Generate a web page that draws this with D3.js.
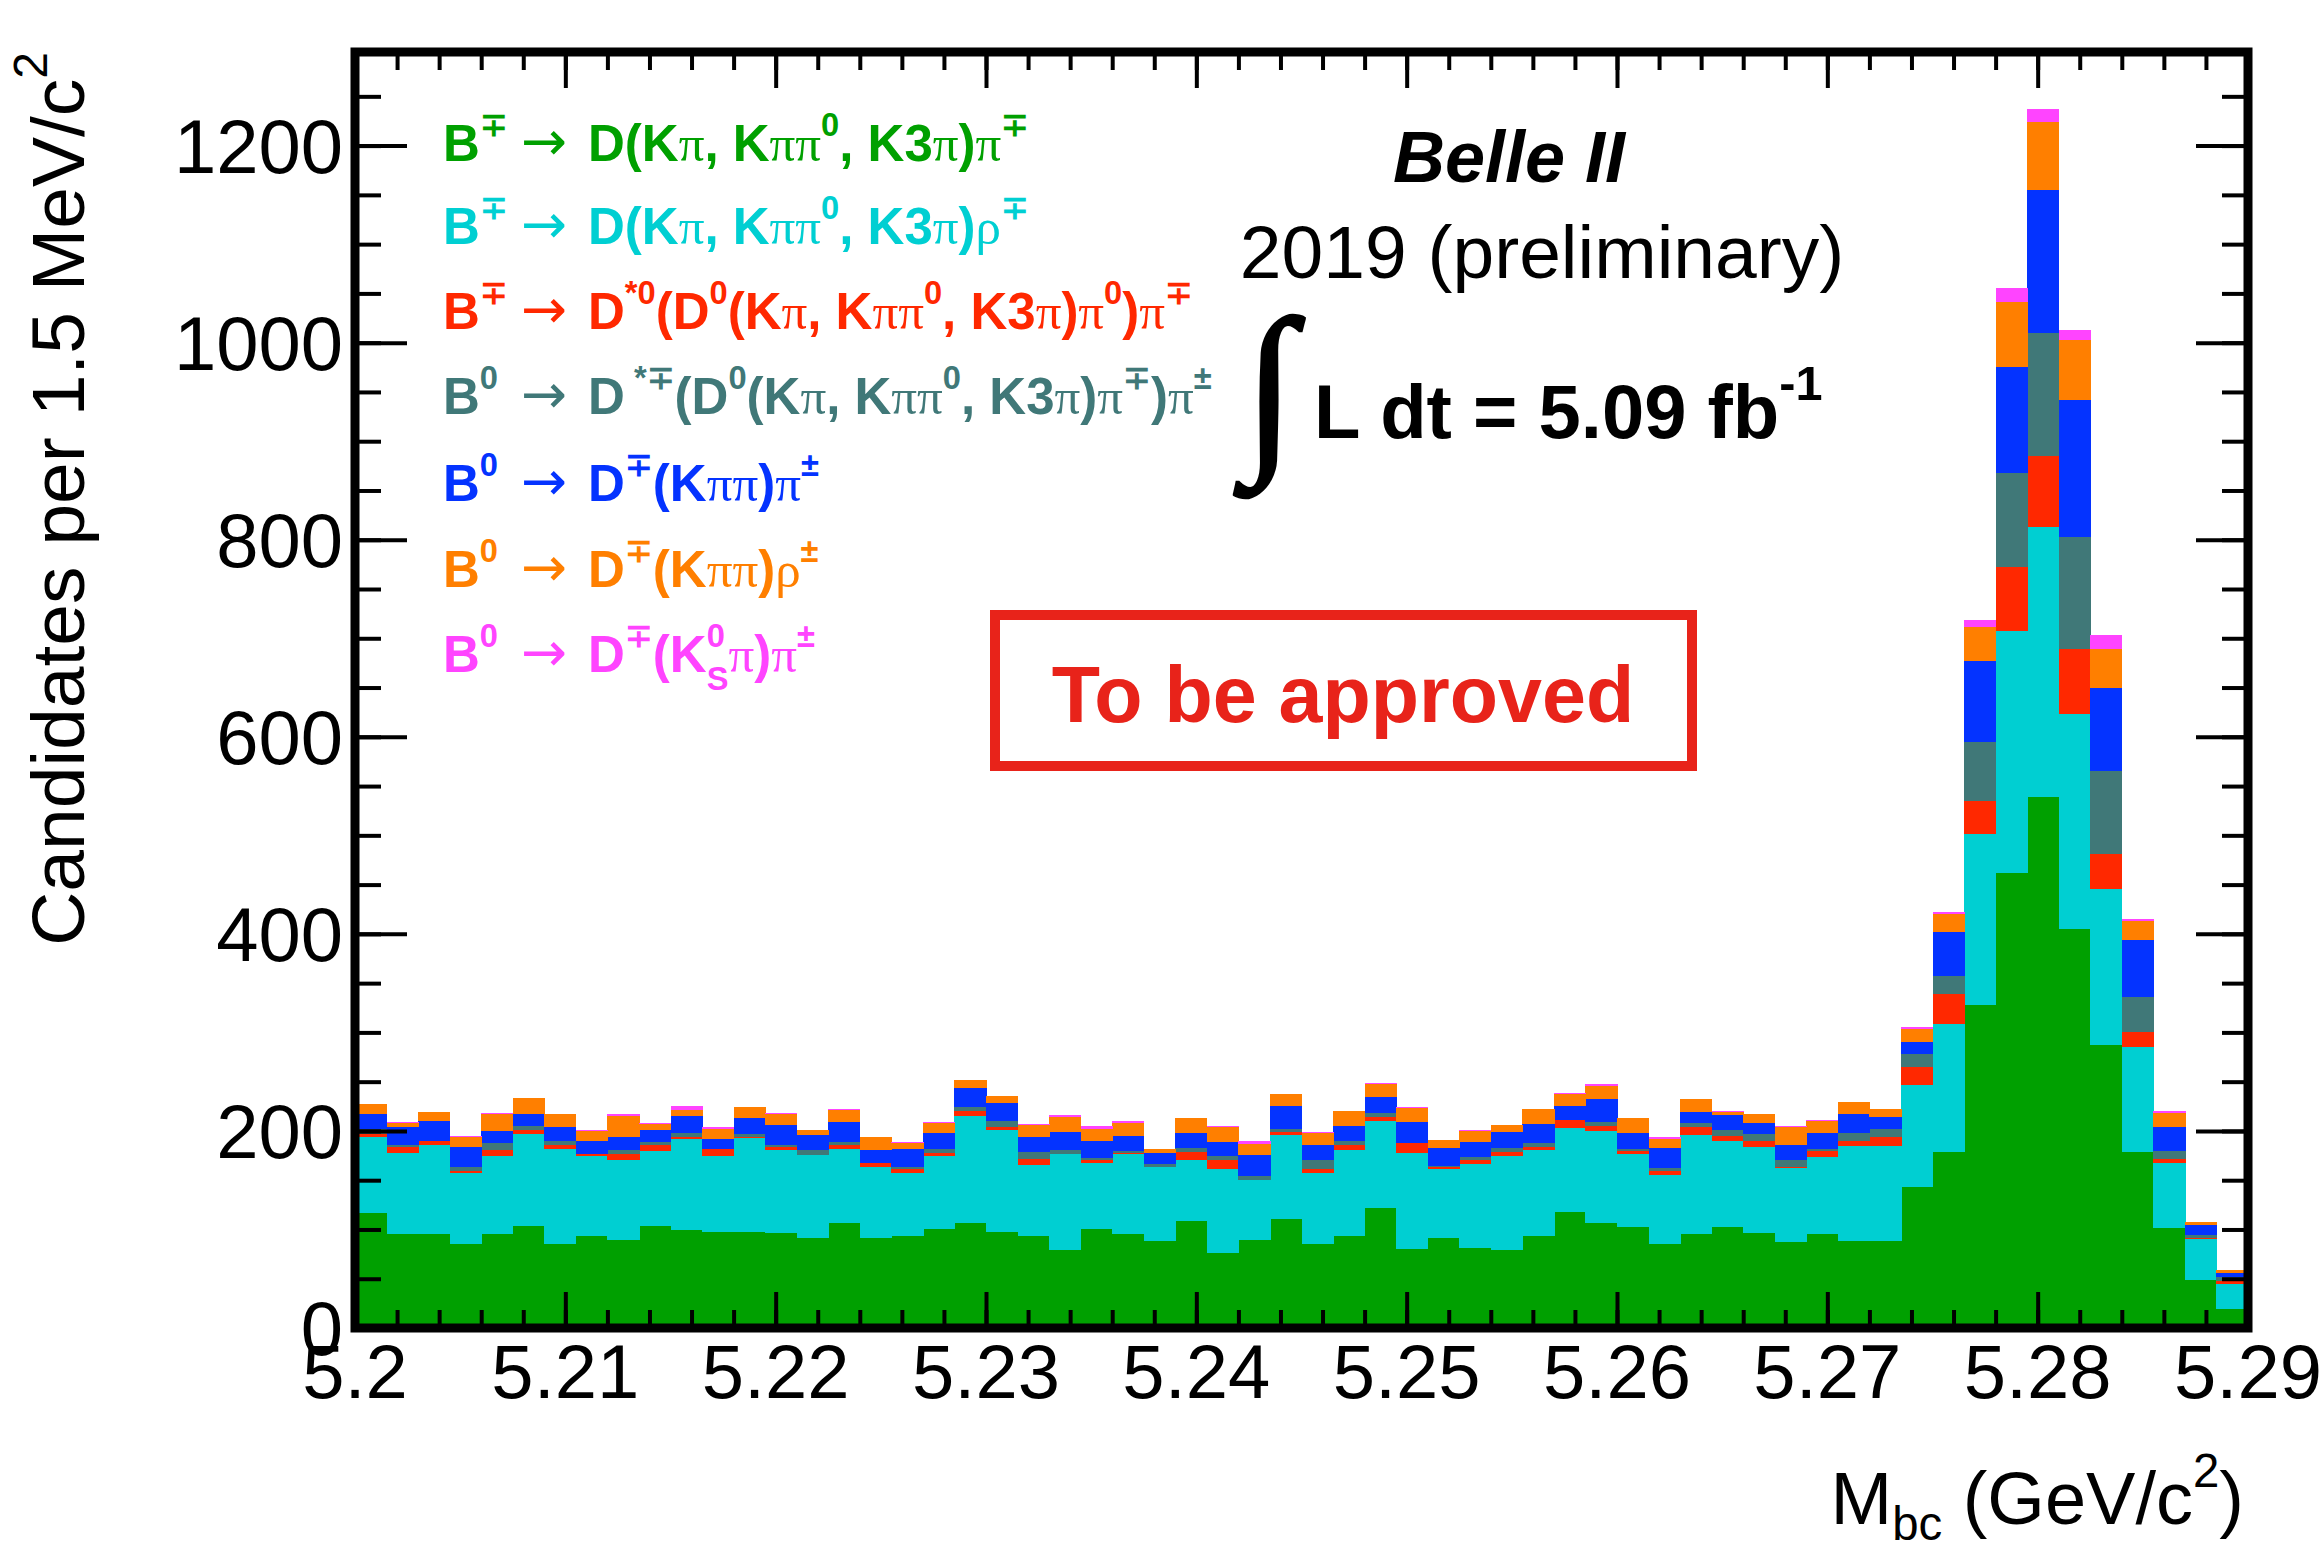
<!DOCTYPE html>
<html>
<head>
<meta charset="utf-8">
<script src="https://cdn.jsdelivr.net/npm/d3@7"></script>
<style>
  body { margin: 0; background: #fff; }
  svg { display: block; }
</style>
</head>
<body>
<svg id="chart" width="2322" height="1557"></svg>
<script>
/************************** DATA **************************/

// Mbc histogram, 60 bins of 1.5 MeV from 5.20 to 5.29 GeV
var xMin = 5.2, xMax = 5.29, binWidth = 0.0015, nBins = 60;

// stacked components, bottom to top (candidates per bin)
var green   = [117,95,95,85,95,104,85,93,89,104, 99,97,97,96,91,107,91,93,100,107,
               97,93,79,100,95,88,109,76,89,111, 85,93,122,80,91,81,79,93,118,107,
               103,85,95,103,96,87,95,88,88,143, 179,328,462,539,405,287,179,101,49,19];
var cyan    = [77,83,91,72,80,93,97,82,81,76, 93,78,96,85,85,75,72,64,75,108,
               104,72,98,67,82,75,62,85,61,85, 72,88,88,98,70,85,96,88,85,93,
               74,70,101,87,88,75,79,97,97,104, 130,173,245,274,218,159,106,66,41,26];
var red     = [3,6,4,2,6,4,4,2,7,6, 2,7,1,3,0,4,4,4,3,5,
               3,7,0,3,1,0,8,9,0,3, 4,5,4,10,2,5,4,3,8,5,
               3,4,8,5,6,1,6,5,9,18, 30,34,65,72,66,35,15,5,1,3];
var teal    = [5,2,0,4,7,4,4,0,4,3, 4,0,3,2,5,3,0,2,4,4,
               6,7,4,3,2,3,4,5,4,3, 9,4,4,0,1,3,4,4,0,4,
               2,3,4,6,7,8,2,8,8,13, 18,60,96,125,114,84,36,8,3,4];
var blue    = [15,18,20,21,12,12,14,13,13,12, 17,10,16,20,15,20,14,19,16,20,
               18,15,18,17,15,12,15,14,22,23, 16,15,16,21,19,15,16,19,14,23,
               16,21,11,15,11,15,16,19,12,12, 45,82,107,145,139,85,58,24,11,4];
var orange  = [10,4,9,10,17,16,13,10,21,6, 6,10,11,11,5,12,13,6,10,8,
               7,12,15,12,13,4,15,15,11,12, 12,15,14,14,8,11,7,15,12,14,
               15,9,13,3,9,18,12,12,8,13, 18,34,66,69,61,39,19,14,3,3];
var magenta = [0,1,0,1,1,0,0,1,2,1, 4,2,0,1,0,1,0,1,1,0,
               0,1,2,3,2,0,0,1,3,0, 1,0,1,1,0,1,0,0,1,2,
               0,2,0,1,0,1,1,0,0,2, 2,8,14,13,10,14,2,2,0,0];

var seriesKeys   = ["green", "cyan", "red", "teal", "blue", "orange", "magenta"];
var seriesValues = [green, cyan, red, teal, blue, orange, magenta];
var seriesColors = ["#00a000", "#00cfd2", "#ff2800", "#407878", "#0433ff", "#ff7f00", "#ff44ff"];

var xTickLabels = ["5.2", "5.21", "5.22", "5.23", "5.24", "5.25", "5.26", "5.27", "5.28", "5.29"];
var yTickLabels = ["0", "200", "400", "600", "800", "1000", "1200"];

// legend: [text, kind]; kind "" bold, "g" greek/symbol, "sup", "sub", "ss" = sub under previous sup
var legendLines = [
  { head: [["B",""],["\u2213","sup"]],
    tail: [["D(K",""],["\u03c0","g"],[", K",""],["\u03c0\u03c0","g"],["0","sup"],[", K3",""],["\u03c0","g"],[")",""],["\u03c0","g"],["\u2213","sup"]] },
  { head: [["B",""],["\u2213","sup"]],
    tail: [["D(K",""],["\u03c0","g"],[", K",""],["\u03c0\u03c0","g"],["0","sup"],[", K3",""],["\u03c0","g"],[")",""],["\u03c1","g"],["\u2213","sup"]] },
  { head: [["B",""],["\u2213","sup"]],
    tail: [["D",""],["*0","sup"],["(D",""],["0","sup"],["(K",""],["\u03c0","g"],[", K",""],["\u03c0\u03c0","g"],["0","sup"],[", K3",""],["\u03c0","g"],[")",""],["\u03c0","g"],["0","sup"],[")",""],["\u03c0","g"],["\u2213","sup"]] },
  { head: [["B",""],["0","sup"]],
    tail: [["D",""],["  *\u2213","sup"],["(D",""],["0","sup"],["(K",""],["\u03c0","g"],[", K",""],["\u03c0\u03c0","g"],["0","sup"],[", K3",""],["\u03c0","g"],[")",""],["\u03c0","g"],["\u2213","sup"],[")",""],["\u03c0","g"],["\u00b1","sup"]] },
  { head: [["B",""],["0","sup"]],
    tail: [["D",""],["\u2213","sup"],["(K",""],["\u03c0\u03c0","g"],[")",""],["\u03c0","g"],["\u00b1","sup"]] },
  { head: [["B",""],["0","sup"]],
    tail: [["D",""],["\u2213","sup"],["(K",""],["\u03c0\u03c0","g"],[")",""],["\u03c1","g"],["\u00b1","sup"]] },
  { head: [["B",""],["0","sup"]],
    tail: [["D",""],["\u2213","sup"],["(K",""],["0","sup"],["S","ss"],["\u03c0","g"],[")",""],["\u03c0","g"],["\u00b1","sup"]] }
];

/************************** RENDER **************************/

var frame = { left: 355, right: 2248, top: 52, bottom: 1328 };
var sans = "'Liberation Sans', Arial, Helvetica, sans-serif";
var serif = "'Liberation Serif', 'Times New Roman', serif";

var svg = d3.select("#chart");

var x = d3.scaleLinear().domain([xMin, xMax]).range([frame.left, frame.right]);
var y = d3.scaleLinear().domain([0, 1295]).range([frame.bottom, frame.top]);

// build table for d3.stack
var table = d3.range(nBins).map(function(i) {
  var row = { lo: xMin + i * binWidth, hi: xMin + (i + 1) * binWidth };
  seriesKeys.forEach(function(k, j) { row[k] = seriesValues[j][i]; });
  return row;
});

var stacked = d3.stack().keys(seriesKeys)(table);

var layers = svg.append("g").selectAll("g")
    .data(stacked)
    .enter().append("g")
      .attr("fill", function(d, i) { return seriesColors[i]; });

layers.selectAll("rect")
    .data(function(d) { return d; })
    .enter().append("rect")
      .attr("x", function(d) { return x(d.data.lo); })
      .attr("width", function(d) { return x(d.data.hi) - x(d.data.lo) + 0.6; })
      .attr("y", function(d) { return y(d[1]); })
      .attr("height", function(d) { return Math.max(0, y(d[0]) - y(d[1])); })
      .attr("shape-rendering", "crispEdges");

// ticks (ROOT style: inside, on all four sides)
var xMajorVals = xTickLabels.map(Number);
var xMinorVals = d3.range(0, 46).map(function(i) { return xMin + i * 0.002; });
var yMajorVals = yTickLabels.map(Number);
var yMinorVals = d3.range(0, 1295, 50);

function tickAxis(axis, tx, ty) {
  var g = svg.append("g").attr("transform", "translate(" + tx + "," + ty + ")").call(axis);
  g.select(".domain").remove();
  g.selectAll("line").attr("stroke", "#000").attr("stroke-width", 4);
  return g;
}

tickAxis(d3.axisBottom(x).tickValues(xMinorVals).tickSize(-18).tickFormat(""), 0, frame.bottom);
tickAxis(d3.axisBottom(x).tickValues(xMajorVals).tickSize(-36).tickFormat(""), 0, frame.bottom);
tickAxis(d3.axisTop(x).tickValues(xMinorVals).tickSize(-18).tickFormat(""), 0, frame.top);
tickAxis(d3.axisTop(x).tickValues(xMajorVals).tickSize(-36).tickFormat(""), 0, frame.top);
tickAxis(d3.axisLeft(y).tickValues(yMinorVals).tickSize(-26).tickFormat(""), frame.left, 0);
tickAxis(d3.axisLeft(y).tickValues(yMajorVals).tickSize(-52).tickFormat(""), frame.left, 0);
tickAxis(d3.axisRight(y).tickValues(yMinorVals).tickSize(-26).tickFormat(""), frame.right, 0);
tickAxis(d3.axisRight(y).tickValues(yMajorVals).tickSize(-52).tickFormat(""), frame.right, 0);

// frame
svg.append("rect")
    .attr("x", frame.left).attr("y", frame.top)
    .attr("width", frame.right - frame.left).attr("height", frame.bottom - frame.top)
    .attr("fill", "none").attr("stroke", "#000").attr("stroke-width", 9);

// tick labels
svg.append("g").selectAll("text")
    .data(xTickLabels)
    .enter().append("text")
      .attr("x", function(d) { return x(+d); })
      .attr("y", 1398)
      .attr("text-anchor", "middle")
      .style("font-family", sans).style("font-size", "76px")
      .text(function(d) { return d; });

svg.append("g").selectAll("text")
    .data(yTickLabels)
    .enter().append("text")
      .attr("x", 343)
      .attr("y", function(d) { return y(+d) + 27; })
      .attr("text-anchor", "end")
      .style("font-family", sans).style("font-size", "76px")
      .text(function(d) { return d; });

// rich text helper: shifts baseline with dy, sizes super/subscripts
function rich(text, parts, size, subShift) {
  var off = 0, lastSupW = 0;
  subShift = subShift || 0.36;
  parts.forEach(function(p) {
    var kind = p[1];
    var t = text.append("tspan").text(p[0]);
    var target = 0, fs = size;
    if (kind == "sup") { target = -0.5 * size; fs = 0.64 * size; }
    if (kind == "sub" || kind == "ss") { target = subShift * size; fs = 0.64 * size; }
    t.attr("dy", target - off).style("font-size", fs + "px");
    off = target;
    if (kind == "g") t.style("font-family", serif).style("font-weight", "normal");
    if (kind == "ss") t.attr("dx", -lastSupW);
    if (kind == "sup") lastSupW = t.node().getComputedTextLength();
  });
}

// axis titles
var yTitle = svg.append("text")
    .attr("transform", "translate(84," + frame.top + ") rotate(-90)")
    .attr("text-anchor", "end")
    .style("font-family", sans).style("font-size", "75px");
rich(yTitle, [["Candidates per 1.5 MeV/c",""],["2","sup"]], 75);

var xTitle = svg.append("text")
    .attr("x", 2244).attr("y", 1524)
    .attr("text-anchor", "end")
    .style("font-family", sans).style("font-size", "74px");
rich(xTitle, [["M",""],["bc","sub"],[" (GeV/c",""],["2","sup"],[")",""]], 74, 0.22);

// legend
var legendBase = [161, 244, 329, 414, 501, 587, 672];
legendLines.forEach(function(line, i) {
  var g = svg.append("g")
      .attr("fill", seriesColors[i])
      .style("font-family", sans).style("font-weight", "bold");
  rich(g.append("text").attr("x", 443).attr("y", legendBase[i]), line.head, 51);
  g.append("text").attr("x", 521).attr("y", legendBase[i] - 1)
      .style("font-family", "'DejaVu Sans', sans-serif").style("font-weight", "normal")
      .style("font-size", "55px")
      .text("\u2192");
  rich(g.append("text").attr("x", 588).attr("y", legendBase[i]), line.tail, 51);
});

// Belle II label block
svg.append("text")
    .attr("x", 1509).attr("y", 182)
    .attr("text-anchor", "middle")
    .style("font-family", sans).style("font-size", "72px")
    .style("font-weight", "bold").style("font-style", "italic")
    .text("Belle II");

svg.append("text")
    .attr("x", 1542).attr("y", 278)
    .attr("text-anchor", "middle")
    .style("font-family", sans).style("font-size", "75px")
    .text("2019 (preliminary)");

svg.append("text")
    .attr("x", 1244).attr("y", 448)
    .style("font-family", serif).style("font-size", "186px")
    .attr("stroke", "#000").attr("stroke-width", 3)
    .text("\u222b");

var lumi = svg.append("text")
    .attr("x", 1314).attr("y", 438)
    .style("font-family", sans).style("font-size", "76px").style("font-weight", "bold");
rich(lumi, [["L dt = 5.09 fb",""],["-1","sup"]], 76);

// approval stamp
svg.append("rect")
    .attr("x", 995).attr("y", 615).attr("width", 697).attr("height", 151)
    .attr("fill", "none").attr("stroke", "#e8231a").attr("stroke-width", 10);

svg.append("text")
    .attr("x", 1343).attr("y", 722)
    .attr("text-anchor", "middle")
    .attr("fill", "#e8231a")
    .style("font-family", sans).style("font-size", "79px").style("font-weight", "bold")
    .text("To be approved");
</script>
</body>
</html>
